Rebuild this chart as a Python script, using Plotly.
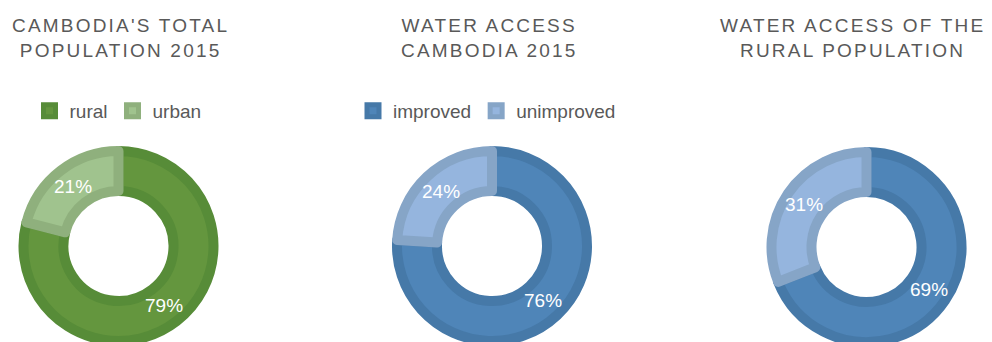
import math
import plotly.graph_objects as go

W, H = 992, 342

# --- data -------------------------------------------------------------
pop_labels = ["rural", "urban"]
pop_values = [79, 21]

water_labels = ["improved", "unimproved"]
water_all_values = [76, 24]
water_rural_values = [69, 31]

titles = [
    ("CAMBODIA'S TOTAL", "POPULATION 2015"),
    ("WATER ACCESS", "CAMBODIA 2015"),
    ("WATER ACCESS OF THE", "RURAL POPULATION"),
]

# --- styling ----------------------------------------------------------
FONT = "Liberation Sans, Arial, Helvetica, sans-serif"
TEXT_GREY = "#595959"

green_fill = ["#64963e", "#a0c38e"]
green_edge = ["#578c38", "#8fb07d"]
blue_fill = ["#4f85b8", "#95b5de"]
blue_edge = ["#4679a8", "#86a5c7"]

EDGE_W = 10          # slice outline (centred on the wedge edge)
R_PATH = 95          # wedge radius in px; outline reaches 100 px
HOLE = 55 / 95       # hole edge at 55 px; outline reaches in to 50 px
R_LABEL = 75         # percentage labels sit mid-ring

centers = [(118.5, 246), (492, 246), (866.5, 247)]
legend_x = [118, 487, 856]
title_x = [120.5, 488.5, 852]


def px_domain(cx, cy, r):
    return dict(
        x=[(cx - r) / W, (cx + r) / W],
        y=[1 - (cy + r) / H, 1 - (cy - r) / H],
    )


def donut(labels, values, fill, edge, idx):
    cx, cy = centers[idx]
    return go.Pie(
        labels=labels,
        values=values,
        sort=False,
        direction="clockwise",
        rotation=0,
        hole=HOLE,
        domain=px_domain(cx, cy, R_PATH),
        marker=dict(colors=fill, line=dict(color=edge, width=EDGE_W)),
        textinfo="none",
        hoverinfo="skip",
        legend="legend" if idx == 0 else f"legend{idx + 1}",
        showlegend=True,
    )


def percent_labels(values, idx):
    """White percentage labels at the middle angle of each slice."""
    cx, cy = centers[idx]
    total = sum(values)
    out, start = [], 0.0
    for v in values:
        frac = v / total
        mid = (start + frac / 2) * 2 * math.pi   # clockwise from 12 o'clock
        px = cx + R_LABEL * math.sin(mid)
        py = cy - R_LABEL * math.cos(mid)
        out.append(dict(
            text=f"{round(frac * 100)}%",
            x=px / W, y=1 - py / H, xref="paper", yref="paper",
            xanchor="center", yanchor="middle", showarrow=False,
            font=dict(family=FONT, size=19, color="white"),
        ))
        start += frac
    return out


series = [
    (pop_labels, pop_values, green_fill, green_edge),
    (water_labels, water_all_values, blue_fill, blue_edge),
    (water_labels, water_rural_values, blue_fill, blue_edge),
]

fig = go.Figure()
annotations = []
for i, (labs, vals, fill, edge) in enumerate(series):
    fig.add_trace(donut(labs, vals, fill, edge, i))
    annotations += percent_labels(vals, i)

spaced = '<span style="letter-spacing:2.2px">{}</span>'
for (l1, l2), tx in zip(titles, title_x):
    annotations.append(dict(
        text=spaced.format(l1) + "<br>" + spaced.format(l2),
        x=tx / W, y=1 - 38 / H, xref="paper", yref="paper",
        xanchor="center", yanchor="middle", showarrow=False,
        font=dict(family=FONT, size=19, color=TEXT_GREY),
    ))


def legend_box(lx):
    return dict(
        orientation="h",
        x=lx / W, xanchor="center",
        y=1 - 111 / H, yanchor="middle",
        font=dict(family=FONT, size=19, color=TEXT_GREY),
        bgcolor="rgba(0,0,0,0)",
        itemwidth=30,
        itemclick=False, itemdoubleclick=False,
    )


fig.update_layout(
    width=W, height=H,
    margin=dict(l=0, r=0, t=0, b=0),
    paper_bgcolor="white",
    plot_bgcolor="white",
    annotations=annotations,
    legend=legend_box(legend_x[0]),
    legend2=legend_box(legend_x[1]),
    legend3=legend_box(legend_x[2]),
)

fig.write_html("out.html", config={"displayModeBar": False})
